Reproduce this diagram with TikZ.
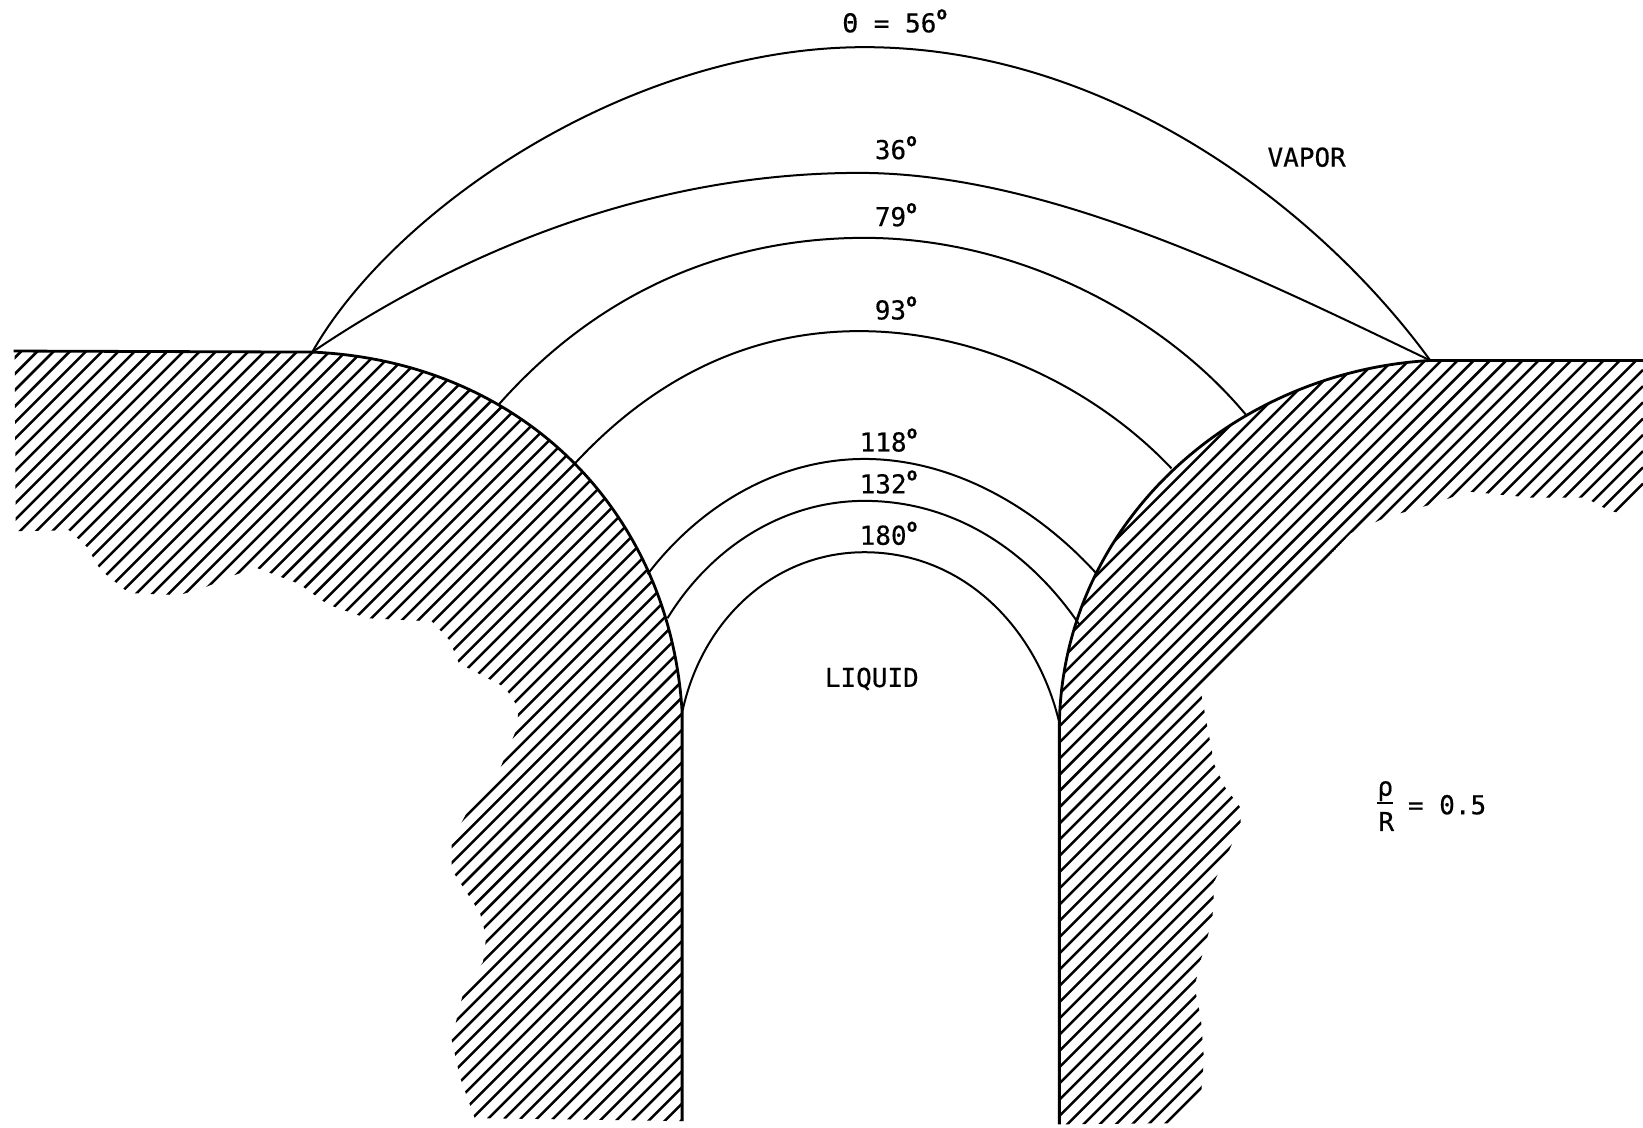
\documentclass[tikz,border=0pt]{standalone}
\usepackage{fontspec}
\setmainfont[FakeBold=0.4]{DejaVu Sans Mono}
\newcommand{\dg}{\raisebox{.5em}{\fontsize{18}{18}\selectfont\bfseries o}}
\tikzset{
  lbl/.style={inner sep=0pt,font=\fontsize{26}{28}\selectfont},
  curveline/.style={line width=2pt,black},
  surface/.style={line width=2.8pt,black,line join=round},
  hatchline/.style={line width=2.5pt,black}
}
\begin{document}
\begin{tikzpicture}[x=1.04785pt,y=-1.04785pt]
\useasboundingbox (0,0) rectangle (1568,1075.55);
\fill[white] (0,0) rectangle (1568,1075.55);
% hatching, left block
\begin{scope}
\clip (14,336) -- (298,336) .. controls (500,345) and (640,490) .. (651,680) -- (651,1070)
  -- (453,1067) -- (439,1028) -- (431,992) -- (442,948) -- (461,918) -- (464,894) -- (458,871) -- (431,830) -- (431,802) -- (447,773) -- (473,744) -- (482,722) -- (493,696) -- (495,676) -- (482,656) -- (438,633) -- (429,611) -- (412,593) -- (350,590) -- (313,577) -- (285,557) -- (245,542) -- (223,549) -- (197,560) -- (171,568) -- (123,566) -- (96,544) -- (90,534) -- (83,522) -- (66,506) -- (15,507) -- cycle;
\foreach \i in {0,...,170}{
  \draw[hatchline] (0,{340+15.5*\i}) -- (1568,{340+15.5*\i-1568});
}
\end{scope}
% hatching, right block
\begin{scope}
\clip (1568,344) -- (1365,344) .. controls (1175,355) and (1015,500) .. (1011,690) -- (1011,1073)
  -- (1116,1072) -- (1146,1047) -- (1149,1011) -- (1146,971) -- (1140,942) -- (1146,916) -- (1157,878) -- (1159,841) -- (1171,816) -- (1184,787) -- (1184,771) -- (1169,751) -- (1159,730) -- (1146,660) -- (1165,640) -- (1254,551) -- (1269,530) -- (1289,509) -- (1322,494) -- (1374,479) -- (1400,469) -- (1462,475) -- (1513,475) -- (1535,487) -- (1547,490) -- (1568,465) -- cycle;
\foreach \i in {0,...,170}{
  \draw[hatchline] (0,{340+15.5*\i}) -- (1568,{340+15.5*\i-1568});
}
\end{scope}
% solid surfaces
\draw[surface] (13,335) -- (298,336) .. controls (500,345) and (640,490) .. (651,680) -- (651,1070);
\draw[surface] (1568,344) -- (1365,344) .. controls (1175,355) and (1015,500) .. (1011,690) -- (1011,1073);
% menisci
\draw[curveline] (298,336) .. controls (375,200) and (600,45) .. (825,45) .. controls (1060,45) and (1260,200) .. (1365,344);
\draw[curveline] (298,336) .. controls (440,240) and (620,165) .. (820,165) .. controls (1000,165) and (1200,265) .. (1365,344);
\draw[curveline] (476,386) .. controls (570,280) and (690,227) .. (825,227) .. controls (970,227) and (1110,300) .. (1190,397);
\draw[curveline] (548,443) .. controls (620,365) and (710,316) .. (820,316) .. controls (940,316) and (1050,375) .. (1118,447);
\draw[curveline] (618,548) .. controls (670,480) and (745,438) .. (825,438) .. controls (910,438) and (990,485) .. (1047,548);
\draw[curveline] (637,590) .. controls (680,520) and (750,478) .. (825,478) .. controls (915,478) and (985,530) .. (1030,596);
\draw[curveline] (651,680) .. controls (670,590) and (740,527) .. (825,527) .. controls (920,527) and (990,600) .. (1011,690);
% labels
\node[lbl] (t56) at (854,20) {Θ = 56\dg};
\node[lbl] (t36) at (855,141) {36\dg};
\node[lbl] (t79) at (855,205) {79\dg};
\node[lbl] (t93) at (855,294) {93\dg};
\node[lbl] (t118) at (848,420) {118\dg};
\node[lbl] (t132) at (848,460) {132\dg};
\node[lbl] (t180) at (848,509) {180\dg};
\node[lbl] (vapor) at (1247,150) {VAPOR};
\node[lbl] (liquid) at (832,648) {LIQUID};
\node[lbl] (rho) at (1322,755) {ρ};
\node[lbl] (rr) at (1323,784) {R};
\draw[line width=1.8pt] (rho.south west |- 0,766) -- (rho.south east |- 0,766);
\node[lbl] (eq) at (1381,768) {= 0.5};
\end{tikzpicture}
\end{document}
